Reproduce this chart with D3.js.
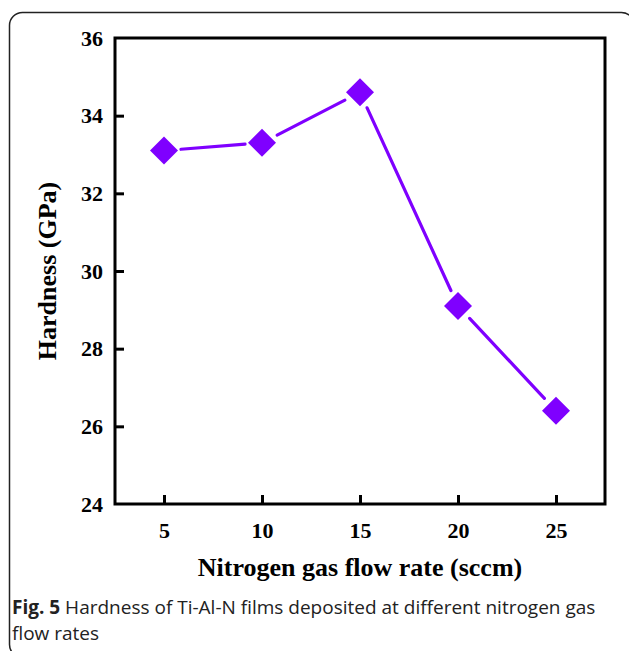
<!DOCTYPE html>
<html>
<head>
<meta charset="utf-8">
<style>
  body { margin: 0; background: #fff; }
  svg { display: block; }
</style>
</head>
<body>
<svg width="629" height="651"></svg>
<script src="https://cdnjs.cloudflare.com/ajax/libs/d3/7.8.5/d3.min.js"></script>
<script>

// data
var flowRates = [5, 10, 15, 20, 25];
var hardness = [33.1, 33.3, 34.6, 29.1, 26.4];
var xTicks = [5, 10, 15, 20, 25];
var yTicks = [24, 26, 28, 30, 32, 34, 36];

var svg = d3.select("svg");
var serif = "'Liberation Serif', 'Times New Roman', serif";
var purple = "#7f00ff";

// rounded frame around the figure
svg.append("rect")
    .attr("x", 9.5).attr("y", 12.5)
    .attr("width", 625).attr("height", 645)
    .attr("rx", 13).attr("ry", 13)
    .attr("fill", "none")
    .attr("stroke", "#222")
    .attr("stroke-width", 1.5);

var pLeft = 115, pRight = 605, pTop = 38, pBottom = 504;

var x = d3.scaleLinear().domain([2.5, 27.5]).range([pLeft, pRight]);
var y = d3.scaleLinear().domain([24, 36]).range([pBottom, pTop]);

// axes, ticks point inward
var gx = svg.append("g")
    .attr("transform", "translate(0," + pBottom + ")")
    .call(d3.axisBottom(x).tickValues(xTicks).tickSizeInner(-9).tickSizeOuter(0).tickPadding(18));

var gy = svg.append("g")
    .attr("transform", "translate(" + pLeft + ",0)")
    .call(d3.axisLeft(y).tickValues(yTicks).tickSizeInner(-9).tickSizeOuter(0).tickPadding(12));

[gx, gy].forEach(function(g) {
  g.select(".domain").remove();
  g.selectAll(".tick line").attr("stroke", "#000").attr("stroke-width", 3);
  g.selectAll(".tick text")
    .attr("fill", "#000")
    .style("font-family", serif)
    .style("font-weight", "bold")
    .style("font-size", "22px");
});
// no tick marks at the corners
gy.selectAll(".tick").filter(function(d) { return d === 24 || d === 36; }).select("line").remove();

// plot box
svg.append("rect")
    .attr("x", pLeft).attr("y", pTop)
    .attr("width", pRight - pLeft).attr("height", pBottom - pTop)
    .attr("fill", "none")
    .attr("stroke", "#000")
    .attr("stroke-width", 3);

var pts = flowRates.map(function(f, i) { return [x(f), y(hardness[i])]; });

// connecting segments, trimmed short of the markers
var gap = 17;
for (var i = 0; i < pts.length - 1; i++) {
  var a = pts[i], b = pts[i + 1];
  var dx = b[0] - a[0], dy = b[1] - a[1], len = Math.sqrt(dx * dx + dy * dy);
  var ux = dx / len, uy = dy / len;
  svg.append("line")
      .attr("x1", a[0] + ux * gap).attr("y1", a[1] + uy * gap)
      .attr("x2", b[0] - ux * gap).attr("y2", b[1] - uy * gap)
      .attr("stroke", purple)
      .attr("stroke-width", 3.2)
      .attr("stroke-linecap", "round");
}

svg.selectAll("path.pt")
    .data(pts)
    .enter().append("path")
    .attr("class", "pt")
    .attr("d", d3.symbol().type(d3.symbolSquare).size(392))
    .attr("transform", function(d) { return "translate(" + d[0] + "," + d[1] + ") rotate(45)"; })
    .attr("fill", purple);

// axis titles
svg.append("text")
    .attr("x", (pLeft + pRight) / 2)
    .attr("y", 576)
    .attr("text-anchor", "middle")
    .style("font-family", serif)
    .style("font-weight", "bold")
    .style("font-size", "26px")
    .text("Nitrogen gas flow rate (sccm)");

svg.append("text")
    .attr("transform", "translate(56," + (pTop + pBottom) / 2 + ") rotate(-90)")
    .attr("text-anchor", "middle")
    .style("font-family", serif)
    .style("font-weight", "bold")
    .style("font-size", "26px")
    .text("Hardness (GPa)");

// caption
var cap = svg.append("text")
    .attr("x", 12).attr("y", 614)
    .style("font-family", "'Open Sans', sans-serif")
    .style("font-size", "19px")
    .attr("fill", "#222");
cap.append("tspan").style("font-weight", "bold").text("Fig. 5");
cap.append("tspan").text(" Hardness of Ti-Al-N films deposited at different nitrogen gas");

svg.append("text")
    .attr("x", 12).attr("y", 640)
    .style("font-family", "'Open Sans', sans-serif")
    .style("font-size", "19px")
    .attr("fill", "#222")
    .text("flow rates");

</script>
</body>
</html>
